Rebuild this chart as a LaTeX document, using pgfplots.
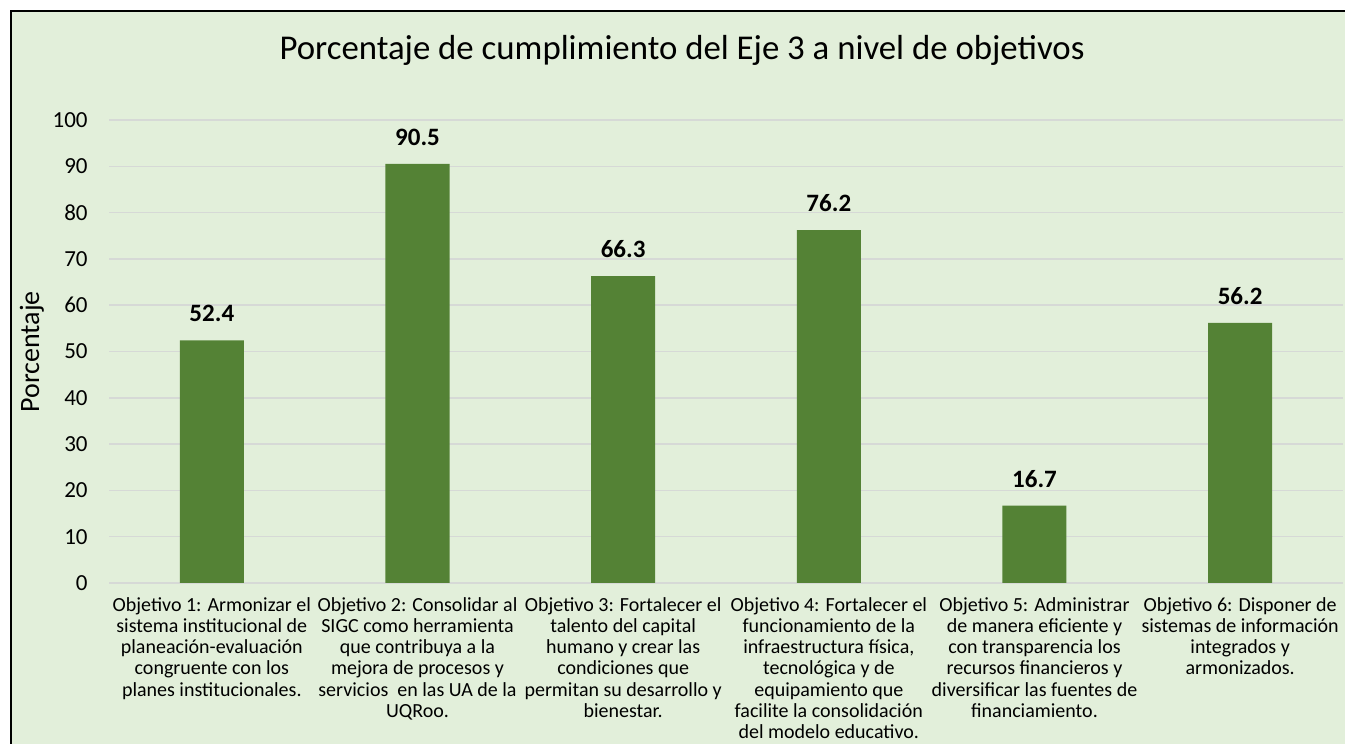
\documentclass[border=0pt]{standalone}
\usepackage{pgfplots}
\pgfplotsset{compat=1.18}
\usepackage{fontspec}
\setmainfont{Carlito}
\definecolor{bgc}{HTML}{E2EFDA}
\definecolor{barc}{HTML}{548235}
\definecolor{gridc}{HTML}{D6D9D6}
\begin{document}
\begin{tikzpicture}
\useasboundingbox (0,0) rectangle (672.5pt,372pt);
\fill[white] (0,0) rectangle (672.5pt,372pt);
\fill[bgc] (5.5pt,0) rectangle (672.5pt,366.5pt);
\draw[black,line width=1pt] (5.5pt,0) -- (5.5pt,366.5pt) -- (672.5pt,366.5pt);
\node[font=\fontsize{17.4}{20}\selectfont] at (341pt,347pt) {Porcentaje de cumplimiento del Eje 3 a nivel de objetivos};
\node[font=\fontsize{14}{16}\selectfont,rotate=90] at (16pt,196pt) {Porcentaje};
\begin{axis}[
  at={(54.5pt,80.5pt)}, anchor=south west,
  scale only axis, width=617pt, height=231.5pt,
  xmin=-0.5, xmax=5.5, ymin=0, ymax=100,
  ytick={0,10,...,100},
  xtick={0,1,2,3,4,5},
  axis line style={draw=none},
  major tick length=0pt,
  ymajorgrids, grid style={gridc,line width=0.75pt},
  /pgf/number format/assume math mode=true,
  yticklabel style={font=\fontsize{11.5}{13}\selectfont, anchor=east, inner sep=0pt, xshift=-10.5pt},
  xticklabel style={font=\fontsize{10}{10.6}\selectfont, align=center, anchor=north, inner sep=0pt, yshift=-7pt},
  xticklabels={
    {Objetivo 1: Armonizar el\\sistema institucional de\\planeación-evaluación\\congruente con los\\planes institucionales.},
    {Objetivo 2: Consolidar al\\SIGC como herramienta\\que contribuya a la\\mejora de procesos y\\servicios\ \ en las UA de la\\UQRoo.},
    {Objetivo 3: Fortalecer el\\talento del capital\\humano y crear las\\condiciones que\\permitan su desarrollo y\\bienestar.},
    {Objetivo 4: Fortalecer el\\funcionamiento de la\\infraestructura física,\\tecnológica y de\\equipamiento que\\facilite la consolidación\\del modelo educativo.},
    {Objetivo 5: Administrar\\de manera eficiente y\\con transparencia los\\recursos financieros y\\diversificar las fuentes de\\financiamiento.},
    {Objetivo 6: Disponer de\\sistemas de información\\integrados y\\armonizados.}
  },
  nodes near coords,
  nodes near coords style={font=\bfseries\fontsize{12.5}{14}\selectfont, anchor=south, inner sep=0pt, yshift=9pt,
    /pgf/number format/.cd, fixed, fixed zerofill, precision=1, assume math mode=true},
]
\addplot[ybar, bar width=32pt, fill=barc, draw=none] coordinates {
  (0,52.4) (1,90.5) (2,66.3) (3,76.2) (4,16.7) (5,56.2)
};
\end{axis}
\end{tikzpicture}
\end{document}
